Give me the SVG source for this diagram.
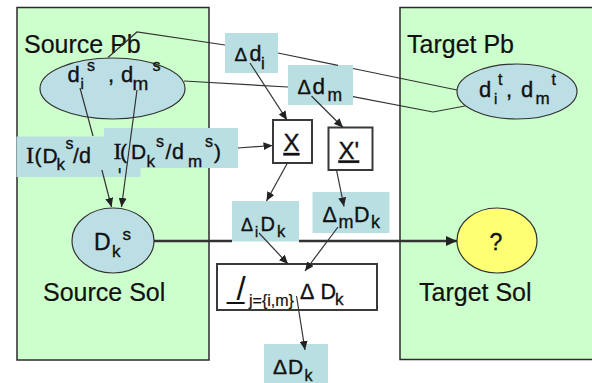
<svg xmlns="http://www.w3.org/2000/svg" width="592" height="383" viewBox="0 0 592 383">
  <style>
    .panel { fill: #ccffcc; stroke: #2b2b2b; stroke-width: 1.5; }
    .oval { fill: #bcdfe5; stroke: #333; stroke-width: 1.2; }
    .sol { fill: #ffff73; stroke: #333; stroke-width: 1.2; }
    .tag { fill: #b9dfe3; }
    .box { fill: #ffffff; stroke: #3a3a3a; stroke-width: 2; }
    text { font-family: "Liberation Sans", Arial, sans-serif; fill: #111; stroke: #111; stroke-width: 0.35; }
    .serif { font-family: "Liberation Serif", "Times New Roman", serif; }
    .title { font-size: 25px; stroke-width: 0.2; }
    .wire { fill: none; stroke: #333; stroke-width: 1.2; }
    .thick { stroke-width: 2.5; }
  </style>
  <defs>
    <marker id="head" markerUnits="userSpaceOnUse" markerWidth="10" markerHeight="8" refX="9" refY="4" orient="auto">
      <path d="M0,0 L9,4 L0,8 z" fill="#222"/>
    </marker>
    <marker id="headBig" markerUnits="userSpaceOnUse" markerWidth="12" markerHeight="10" refX="11" refY="5" orient="auto">
      <path d="M0,0 L11,5 L0,10 z" fill="#222"/>
    </marker>
  </defs>

  <rect width="592" height="383" fill="#ffffff"/>

  <!-- source and target panels -->
  <g id="source-panel">
    <rect class="panel" x="17" y="7.5" width="192" height="352.5"/>
    <text class="title" x="24" y="53">Source Pb</text>
    <text class="title" x="43" y="301">Source Sol</text>
  </g>
  <g id="target-panel">
    <rect class="panel" x="400" y="7.5" width="200" height="352"/>
    <text class="title" x="407" y="53">Target Pb</text>
    <text class="title" x="419" y="301">Target Sol</text>
  </g>

  <g id="source-pb">
    <ellipse class="oval" cx="112.5" cy="88.5" rx="72.5" ry="30.5"/>
    <text><tspan x="67.5" y="82" font-size="22">d</tspan><tspan x="80.5" y="88.5" font-size="15">i</tspan><tspan x="87" y="71" font-size="16">s</tspan><tspan x="108" y="82" font-size="22">,</tspan><tspan x="121" y="82" font-size="22">d</tspan><tspan x="132.5" y="90" font-size="19">m</tspan><tspan x="152.5" y="71" font-size="16">s</tspan></text>
  </g>

  <g id="target-pb">
    <ellipse class="oval" cx="517" cy="91.5" rx="60" ry="27.5"/>
    <text><tspan x="479" y="97" font-size="22">d</tspan><tspan x="494" y="104" font-size="15">i</tspan><tspan x="498" y="85" font-size="16">t</tspan><tspan x="506" y="97" font-size="22">,</tspan><tspan x="521" y="97" font-size="22">d</tspan><tspan x="535.5" y="104" font-size="17">m</tspan><tspan x="551.5" y="85" font-size="16">t</tspan></text>
  </g>

  <g id="source-sol">
    <ellipse class="oval" cx="113" cy="240.5" rx="41" ry="32.5"/>
    <text><tspan x="94" y="250" font-size="23">D</tspan><tspan x="112" y="257" font-size="17">k</tspan><tspan x="122.5" y="239.5" font-size="17">s</tspan></text>
  </g>

  <g id="target-sol">
    <ellipse class="sol" cx="497" cy="240.5" rx="40" ry="32.5"/>
    <text x="496" y="250" font-size="23" text-anchor="middle">?</text>
  </g>

  <g id="delta-di">
    <rect class="tag" x="225" y="33" width="53" height="40"/>
    <text><tspan x="234.5" y="61" font-size="19">Δ</tspan><tspan x="249.5" y="61" font-size="21.5">d</tspan><tspan x="261" y="68.5" font-size="17">i</tspan></text>
  </g>

  <g id="delta-dm">
    <rect class="tag" x="288" y="65" width="65" height="40"/>
    <text><tspan x="297.5" y="93.5" font-size="20">Δ</tspan><tspan x="312.5" y="93.5" font-size="22.5">d</tspan><tspan x="327.5" y="101" font-size="17.5">m</tspan></text>
  </g>

  <g id="info-di">
    <rect class="tag" x="16.5" y="136.5" width="124" height="40.5"/>
    <text><tspan class="serif" x="26" y="163" font-size="24">I</tspan><tspan x="34.5" y="163" font-size="21">(</tspan><tspan x="42.5" y="162.5" font-size="21">D</tspan><tspan x="56.5" y="169.5" font-size="17">k</tspan><tspan x="65.5" y="149" font-size="16">s</tspan><tspan x="73" y="162.5" font-size="21">/</tspan><tspan x="79" y="162.5" font-size="21.5">d</tspan><tspan x="118" y="172.5" font-size="15">i</tspan></text>
  </g>

  <g id="info-dm">
    <rect class="tag" x="104" y="128" width="134" height="40"/>
    <text><tspan class="serif" x="113.5" y="159" font-size="24">I</tspan><tspan x="120" y="159" font-size="21">(</tspan><tspan x="131" y="159" font-size="21">D</tspan><tspan x="146.5" y="167" font-size="17">k</tspan><tspan x="156" y="147" font-size="16">s</tspan><tspan x="165.5" y="159" font-size="21">/</tspan><tspan x="172" y="159" font-size="21.5">d</tspan><tspan x="188" y="167" font-size="17">m</tspan><tspan x="205" y="147" font-size="16">s</tspan><tspan x="214" y="159" font-size="21">)</tspan></text>
  </g>

  <g id="x">
    <rect class="box" x="273" y="120" width="39" height="43"/>
    <text x="291.5" y="151" font-size="24" text-anchor="middle" text-decoration="underline">X</text>
  </g>

  <g id="x-prime">
    <rect class="box" x="328.5" y="127.5" width="44" height="42.5"/>
    <text x="338.5" y="158.5" font-size="24" text-decoration="underline">X'</text>
  </g>

  <g id="delta-i-dk">
    <rect class="tag" x="232" y="201" width="67" height="40.5"/>
    <text><tspan x="241" y="231" font-size="18">Δ</tspan><tspan x="255" y="236.5" font-size="14">i</tspan><tspan x="260.5" y="231" font-size="20">D</tspan><tspan x="277" y="236.5" font-size="16.5">k</tspan></text>
  </g>

  <g id="delta-m-dk">
    <rect class="tag" x="312.5" y="192" width="77" height="41"/>
    <text><tspan x="322.5" y="221.5" font-size="21.5">Δ</tspan><tspan x="338.5" y="228" font-size="18">m</tspan><tspan x="354" y="221.5" font-size="21.5">D</tspan><tspan x="371" y="228" font-size="18">k</tspan></text>
  </g>

  <g id="sum">
    <rect class="box" x="217" y="264" width="160" height="46"/>
    <text><tspan x="227" y="297.5" font-size="31" stroke-width="0">_</tspan><tspan x="236.5" y="300" font-size="33" stroke-width="0">/</tspan><tspan x="249" y="305.5" font-size="16" stroke-width="0.2">j={i,m}</tspan><tspan x="300" y="298.5" font-size="21.5">Δ</tspan><tspan x="320.5" y="298.5" font-size="21.5">D</tspan><tspan x="335" y="304.5" font-size="17">k</tspan></text>
  </g>

  <g id="delta-dk">
    <rect class="tag" x="264" y="344" width="64" height="40"/>
    <text><tspan x="273" y="373.5" font-size="21">Δ</tspan><tspan x="288" y="373.5" font-size="21">D</tspan><tspan x="304.5" y="380.5" font-size="16">k</tspan></text>
  </g>

  <!-- connectors -->
  <g id="connectors">
    <!-- problem descriptors, source to target (hidden where they pass behind the delta tags) -->
    <polyline class="wire" stroke-width="1.5" points="108,57.5 137,32 225,45"/>
    <line class="wire" stroke-width="1.5" x1="278" y1="53" x2="338" y2="65.4"/>
    <line class="wire" stroke-width="1.5" x1="353" y1="68.5" x2="457" y2="90"/>
    <line class="wire" stroke-width="1.5" x1="184" y1="81" x2="288" y2="87"/>
    <polyline class="wire" stroke-width="1.5" points="353,96.7 433,112 465,106"/>

    <!-- descriptors to the solution -->
    <line class="wire" x1="80" y1="88" x2="93" y2="136"/>
    <line class="wire" x1="101.9" y1="170" x2="111.5" y2="207" marker-end="url(#head)"/>
    <line class="wire" x1="137" y1="90" x2="121.5" y2="207" marker-end="url(#head)"/>

    <line class="wire" x1="250" y1="63" x2="287" y2="120" marker-end="url(#head)"/>
    <line class="wire" x1="311.5" y1="96" x2="343" y2="127.5" marker-end="url(#head)"/>
    <line class="wire" x1="238" y1="148" x2="272.5" y2="145.5" marker-end="url(#head)"/>
    <line class="wire" x1="288" y1="162" x2="266.5" y2="201" marker-end="url(#head)"/>
    <line class="wire" x1="336.5" y1="170" x2="344" y2="206.5" marker-end="url(#head)"/>
    <line class="wire" x1="259" y1="233" x2="288" y2="264" marker-end="url(#head)"/>
    <line class="wire" x1="338" y1="227" x2="305" y2="271" marker-end="url(#head)"/>
    <line class="wire" x1="296.5" y1="296" x2="305" y2="350" marker-end="url(#head)"/>

    <!-- source solution to target solution -->
    <line class="wire thick" x1="154" y1="241" x2="232" y2="241"/>
    <line class="wire thick" x1="299" y1="241" x2="457" y2="241" marker-end="url(#headBig)"/>
  </g>
</svg>
